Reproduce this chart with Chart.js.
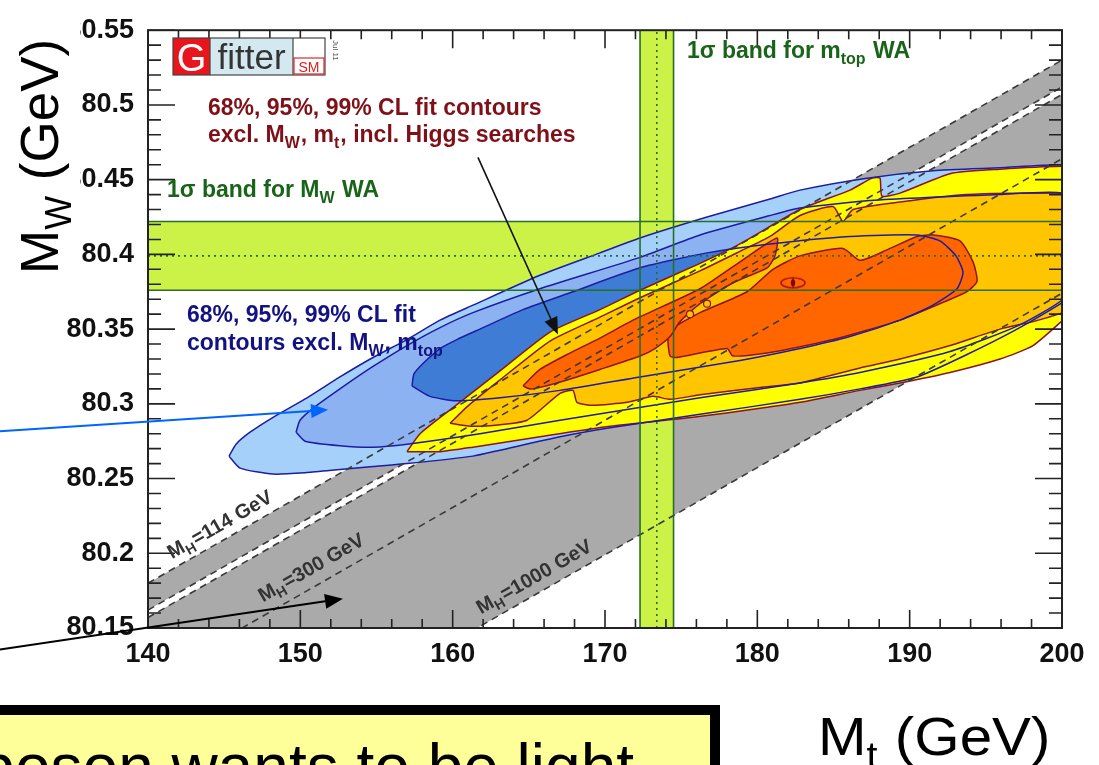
<!DOCTYPE html>
<html>
<head>
<meta charset="utf-8">
<script src="https://cdn.jsdelivr.net/npm/chart.js@4.4.1/dist/chart.umd.min.js"></script>
<style>
  html, body { margin: 0; padding: 0; background: #ffffff; overflow: hidden; }
  #c { display: block; }
</style>
</head>
<body>
<canvas id="c" width="1099" height="765" style="width:1099px;height:765px"></canvas>
<script>
// ---------- axes ----------
const mtRange = [140, 200];
const mwRange = [80.15, 80.55];
const mtTicks = [140, 150, 160, 170, 180, 190, 200];
const mwTicks = [80.15, 80.2, 80.25, 80.3, 80.35, 80.4, 80.45, 80.5, 80.55];
const mwTickLabels = ['80.15', '80.2', '80.25', '80.3', '80.35', '80.4', '80.45', '80.5', '80.55'];
const mtMinorStep = 2;
const mwMinorStep = 0.01;

// ---------- world averages (low, central, high) ----------
const mwWorldAvg = [80.376, 80.399, 80.422];
const mtWorldAvg = [172.3, 173.4, 174.5];

// ---------- SM prediction lines: MW at mt = 140 and mt = 200 ----------
const mh114Upper = [80.180, 80.530];
const mh114Lower = [80.162, 80.512];
const mhHeavyUpper = [80.157, 80.507];
const mh300 = [80.114, 80.464];
const mh1000 = [80.024, 80.374];

// ---------- fit contours excluding MW, mt (mt, MW) ----------
const blue99 = [
  [145.32,80.265],[146.04,80.257],[148.21,80.253],[150.44,80.254],[152.60,80.256],[154.77,80.258],
  [157.00,80.260],[161.33,80.265],[163.11,80.269],[167.05,80.278],[170.33,80.284],[176.24,80.293],
  [182.80,80.303],[186.74,80.310],[190.48,80.318],[193.76,80.333],[197.05,80.350],[200.07,80.368],
  [202.50,80.384],[203.81,80.404],[203.15,80.437],[201.18,80.456],[200.00,80.460],[195.93,80.458],
  [191.53,80.456],[187.20,80.451],[182.80,80.443],[180.83,80.437],[176.70,80.425],[172.30,80.411],
  [169.67,80.401],[165.73,80.386],[161.33,80.366],[159.17,80.356],[157.00,80.343],[154.77,80.331],
  [152.60,80.318],[150.44,80.304],[148.21,80.291],[146.70,80.281],[145.78,80.273]
];
const blue95 = [
  [149.72,80.281],[150.31,80.275],[152.60,80.272],[154.77,80.271],[157.00,80.273],[161.79,80.280],
  [167.05,80.289],[176.24,80.304],[182.80,80.314],[186.74,80.321],[192.65,80.335],[197.05,80.352],
  [200.07,80.370],[201.84,80.394],[201.84,80.427],[200.00,80.441],[195.93,80.440],[187.40,80.436],
  [182.80,80.431],[180.83,80.426],[176.24,80.413],[172.30,80.398],[165.73,80.377],[161.33,80.361],
  [159.17,80.351],[157.00,80.339],[154.77,80.325],[152.60,80.310],[150.83,80.297],[149.98,80.289]
];
const blue68 = [
  [157.33,80.312],[158.51,80.305],[160.28,80.302],[163.11,80.304],[167.05,80.309],[172.30,80.318],
  [178.86,80.329],[182.80,80.337],[186.08,80.345],[189.37,80.356],[191.53,80.366],[193.11,80.377],
  [193.50,80.388],[193.04,80.399],[191.99,80.409],[190.48,80.413],[186.08,80.412],[180.83,80.407],
  [176.70,80.401],[172.30,80.391],[167.90,80.375],[164.62,80.363],[161.79,80.350],[160.28,80.343],
  [159.17,80.337],[158.05,80.327],[157.46,80.320]
];

// ---------- fit contours including Higgs searches (mt, MW) ----------
const yellow99 = [
  [157.00,80.268],[159.17,80.268],[161.33,80.271],[165.73,80.278],[170.33,80.285],[175.78,80.291],
  [180.18,80.297],[182.80,80.301],[186.74,80.309],[189.37,80.314],[192.65,80.321],[195.93,80.330],
  [198.10,80.339],[200.07,80.356],[202.50,80.375],[203.15,80.430],[201.84,80.458],[200.00,80.459],
  [195.93,80.457],[192.65,80.454],[189.37,80.441],[188.18,80.439],[188.05,80.451],[187.53,80.451],
  [186.08,80.443],[182.80,80.430],[178.86,80.407],[176.24,80.394],[172.30,80.376],[169.67,80.363],
  [166.39,80.348],[163.11,80.322],[159.83,80.296],[157.86,80.280]
];
const orange95 = [
  [159.83,80.287],[160.94,80.298],[163.11,80.316],[166.39,80.342],[169.67,80.358],[172.30,80.371],
  [176.24,80.389],[178.86,80.402],[180.83,80.412],[182.80,80.426],[184.97,80.432],[185.62,80.422],
  [186.28,80.430],[189.37,80.435],[193.76,80.440],[200.00,80.441],[202.50,80.440],[202.50,80.370],
  [200.07,80.361],[198.10,80.355],[195.93,80.350],[192.65,80.339],[189.37,80.330],[186.74,80.324],
  [182.80,80.314],[180.18,80.311],[176.24,80.306],[174.27,80.303],[173.15,80.305],[171.44,80.301],
  [169.21,80.299],[168.16,80.301],[167.90,80.309],[167.05,80.307],[164.88,80.289],[163.11,80.286],
  [161.14,80.285]
];
const red68Left = [
  [164.62,80.312],[165.73,80.323],[167.51,80.333],[169.67,80.344],[171.84,80.356],[176.24,80.377],
  [178.86,80.395],[181.29,80.411],[181.16,80.399],[180.64,80.391],[178.40,80.381],[176.24,80.367],
  [174.92,80.355],[174.27,80.345],[173.28,80.337],[172.30,80.332],[169.67,80.323],[167.51,80.316],
  [165.73,80.311],[165.08,80.310]
];
const red68Right = [
  [174.60,80.352],[176.24,80.361],[179.32,80.375],[181.03,80.390],[182.80,80.399],[185.62,80.404],
  [186.74,80.396],[188.51,80.403],[190.48,80.412],[191.53,80.413],[193.30,80.409],[194.16,80.395],
  [194.42,80.382],[193.76,80.375],[192.45,80.369],[189.37,80.356],[184.97,80.343],[180.64,80.334],
  [178.40,80.332],[178.01,80.337],[174.73,80.331],[174.27,80.332],[174.14,80.345]
];
const smallIslands = [[175.58,80.360],[176.70,80.367]];
const bestFit = [182.34, 80.381];

// ---------- arrows (start, tip) ----------
const arrowHiggsFit = [[161.66,80.4649],[166.91,80.3464]];
const arrowBlueFit = [[130.28,80.2816],[151.82,80.296]];
const arrowSMBand = [[130.28,80.1356],[152.80,80.1696]];

// ---------- label anchors (mt, MW) ----------
const mh114Label = [141.58, 80.196];
const mh300Label = [147.55, 80.167];
const mh1000Label = [161.86, 80.159];

const FAMILY = '"Liberation Sans", Arial, Helvetica, sans-serif';
const C_RED_TXT = 'rgb(128,16,24)';
const C_BLUE_TXT = 'rgb(18,18,130)';
const C_GREEN_TXT = 'rgb(26,100,26)';
const C_BAND_FILL = 'rgb(204,242,72)';
const C_BAND_EDGE = 'rgb(40,110,40)';
const C_GREY = 'rgb(170,170,170)';
const C_BLUE_EDGE = 'rgb(28,28,165)';
const C_RED_EDGE = 'rgb(140,20,30)';
const CONTOUR_TENSION = 0.2;

const xy = pts => pts.map(([x, y]) => ({ x, y }));
const closed = pts => xy(pts.concat([pts[0]]));
const segment = (vals) => xy([[mtRange[0], vals[0]], [mtRange[1], vals[1]]]);

function areaSet(pts, fillColor, order, edgeColor, edgeWidth, tension) {
  return {
    data: closed(pts), showLine: true, fill: 'shape', backgroundColor: fillColor,
    borderColor: edgeColor || 'rgba(0,0,0,0)', borderWidth: edgeWidth || 0,
    pointRadius: 0, tension: tension === undefined ? CONTOUR_TENSION : tension, order
  };
}
function outlineSet(pts, color, width, order) {
  return {
    data: closed(pts), showLine: true, fill: false, borderColor: color, borderWidth: width,
    pointRadius: 0, tension: CONTOUR_TENSION, order
  };
}
function lineSet(points, color, width, dash, order) {
  return {
    data: points, showLine: true, fill: false, borderColor: color, borderWidth: width,
    borderDash: dash, pointRadius: 0, order
  };
}
function rectPts(x0, x1, y0, y1) { return [[x0, y0], [x1, y0], [x1, y1], [x0, y1]]; }
const vLine = mt => xy([[mt, mwRange[0]], [mt, mwRange[1]]]);

// best-fit marker symbol
const fitMark = document.createElement('canvas');
fitMark.width = 30; fitMark.height = 14;
(function () {
  const g = fitMark.getContext('2d');
  g.strokeStyle = 'rgb(170,20,20)'; g.lineWidth = 1.6;
  g.beginPath(); g.ellipse(15, 7, 12, 5, 0, 0, Math.PI * 2); g.stroke();
  g.beginPath(); g.moveTo(15, 1.5); g.lineTo(15, 12.5); g.stroke();
  g.fillStyle = 'rgb(120,10,10)';
  g.beginPath(); g.ellipse(15, 7, 2.2, 3.5, 0, 0, Math.PI * 2); g.fill();
})();

const DASH = [7, 5];
const datasets = [
  // SM prediction bands
  areaSet([[mtRange[0], mh114Upper[0]], [mtRange[1], mh114Upper[1]], [mtRange[1], mh114Lower[1]], [mtRange[0], mh114Lower[0]]], C_GREY, 100, null, 0, 0),
  areaSet([[mtRange[0], mhHeavyUpper[0]], [mtRange[1], mhHeavyUpper[1]], [mtRange[1], mh1000[1]], [mtRange[0], mh1000[0]]], C_GREY, 100, null, 0, 0),
  // world-average bands (fill)
  areaSet(rectPts(mtRange[0], mtRange[1], mwWorldAvg[0], mwWorldAvg[2]), C_BAND_FILL, 95, null, 0, 0),
  areaSet(rectPts(mtWorldAvg[0], mtWorldAvg[2], mwRange[0], mwRange[1]), C_BAND_FILL, 95, null, 0, 0),
  // fit excluding MW, mt
  areaSet(blue99, 'rgb(164,208,250)', 90),
  areaSet(blue95, 'rgb(140,178,242)', 89),
  areaSet(blue68, 'rgb(62,124,214)', 88),
  // fit including Higgs searches
  areaSet(yellow99, 'rgb(255,255,0)', 80, C_RED_EDGE, 1.5),
  areaSet(orange95, 'rgb(255,198,0)', 79, C_RED_EDGE, 1.5),
  areaSet(red68Left, 'rgb(255,102,0)', 78, C_RED_EDGE, 1.5),
  areaSet(red68Right, 'rgb(255,102,0)', 78, C_RED_EDGE, 1.5),
  // contour lines of the fit excluding MW, mt
  outlineSet(blue99, C_BLUE_EDGE, 1.5, 70),
  outlineSet(blue95, C_BLUE_EDGE, 1.5, 70),
  outlineSet(blue68, C_BLUE_EDGE, 1.5, 70),
  // SM prediction lines
  lineSet(segment(mh114Upper), '#3a3a3a', 1.6, DASH, 60),
  lineSet(segment(mh114Lower), '#3a3a3a', 1.6, DASH, 60),
  lineSet(segment(mhHeavyUpper), '#3a3a3a', 1.6, DASH, 60),
  lineSet(segment(mh300), '#3a3a3a', 1.6, DASH, 60),
  lineSet(segment(mh1000), '#3a3a3a', 1.6, DASH, 60),
  // world-average band edges and centres
  lineSet(segment([mwWorldAvg[0], mwWorldAvg[0]]), C_BAND_EDGE, 1.6, [], 50),
  lineSet(segment([mwWorldAvg[2], mwWorldAvg[2]]), C_BAND_EDGE, 1.6, [], 50),
  lineSet(segment([mwWorldAvg[1], mwWorldAvg[1]]), C_BAND_EDGE, 1.6, [2, 4], 50),
  lineSet(vLine(mtWorldAvg[0]), C_BAND_EDGE, 1.6, [], 50),
  lineSet(vLine(mtWorldAvg[2]), C_BAND_EDGE, 1.6, [], 50),
  lineSet(vLine(mtWorldAvg[1]), C_BAND_EDGE, 1.6, [2, 4], 50),
  // small islands and best fit point
  { data: xy(smallIslands), showLine: false, pointStyle: 'circle', pointRadius: 3.5, backgroundColor: 'rgb(255,198,0)', borderColor: C_RED_EDGE, borderWidth: 1.2, order: 40 },
  { data: xy([bestFit]), showLine: false, pointStyle: fitMark, pointRadius: 8, order: 40 }
];

// ---------- helpers for drawing annotations ----------
function drawRich(ctx, x, y, segs, size, weight, color) {
  ctx.fillStyle = color;
  ctx.textBaseline = 'alphabetic';
  ctx.textAlign = 'left';
  let cx = x;
  for (const s of segs) {
    const fs = s.sub ? Math.round(size * 0.68) : size;
    ctx.font = `${weight} ${fs}px ${FAMILY}`;
    ctx.fillText(s.t, cx, y + (s.sub ? size * 0.24 : 0));
    cx += ctx.measureText(s.t).width + (s.sub ? 1 : 0);
  }
}
function drawArrow(ctx, x0, y0, x1, y1, color, width, headLen, headW) {
  const a = Math.atan2(y1 - y0, x1 - x0);
  const bx = x1 - headLen * Math.cos(a), by = y1 - headLen * Math.sin(a);
  ctx.save();
  ctx.strokeStyle = color; ctx.fillStyle = color; ctx.lineWidth = width;
  ctx.beginPath(); ctx.moveTo(x0, y0); ctx.lineTo(bx, by); ctx.stroke();
  ctx.beginPath();
  ctx.moveTo(x1, y1);
  ctx.lineTo(bx - headW * Math.sin(a), by + headW * Math.cos(a));
  ctx.lineTo(bx + headW * Math.sin(a), by - headW * Math.cos(a));
  ctx.closePath(); ctx.fill();
  ctx.restore();
}
const near = (v, list) => list.some(t => Math.abs(t - v) < 1e-6);

const frameAndLabels = {
  id: 'frameAndLabels',
  afterDatasetsDraw(chart) {
    const { ctx, chartArea: a, scales: { x, y } } = chart;
    const X = v => x.getPixelForValue(v), Y = v => y.getPixelForValue(v);
    ctx.save();

    // inward ticks on all four sides
    ctx.strokeStyle = '#222'; ctx.lineWidth = 1.6;
    ctx.beginPath();
    const nx = Math.round((mtRange[1] - mtRange[0]) / mtMinorStep);
    for (let i = 0; i <= nx; i++) {
      const v = mtRange[0] + i * mtMinorStep;
      const len = near(v, mtTicks) ? 18 : 9;
      const p = X(v);
      ctx.moveTo(p, a.bottom); ctx.lineTo(p, a.bottom - len);
      ctx.moveTo(p, a.top); ctx.lineTo(p, a.top + len);
    }
    const ny = Math.round((mwRange[1] - mwRange[0]) / mwMinorStep);
    for (let i = 0; i <= ny; i++) {
      const v = +(mwRange[0] + i * mwMinorStep).toFixed(3);
      const len = near(v, mwTicks) ? 27 : 13;
      const p = Y(v);
      ctx.moveTo(a.left, p); ctx.lineTo(a.left + len, p);
      ctx.moveTo(a.right, p); ctx.lineTo(a.right - len, p);
    }
    ctx.stroke();
    ctx.lineWidth = 2;
    ctx.strokeRect(a.left, a.top, a.right - a.left, a.bottom - a.top);

    // Gfitter logo
    ctx.fillStyle = 'rgb(232,22,28)'; ctx.fillRect(173, 38, 37, 37);
    ctx.fillStyle = 'rgb(212,232,240)'; ctx.fillRect(210, 38, 83, 37);
    ctx.fillStyle = '#ffffff'; ctx.fillRect(293, 38, 32, 37);
    ctx.strokeStyle = '#444'; ctx.lineWidth = 1.2;
    ctx.strokeRect(173, 38, 152, 37);
    ctx.beginPath(); ctx.moveTo(210, 38); ctx.lineTo(210, 75); ctx.moveTo(293, 38); ctx.lineTo(293, 75); ctx.stroke();
    ctx.strokeStyle = 'rgb(220,40,40)'; ctx.strokeRect(294, 58, 30, 16);
    ctx.textBaseline = 'alphabetic'; ctx.textAlign = 'center';
    ctx.fillStyle = '#ffffff'; ctx.font = `38px ${FAMILY}`; ctx.fillText('G', 191.5, 71);
    ctx.fillStyle = '#333'; ctx.font = `35px ${FAMILY}`; ctx.fillText('fitter', 251.5, 69);
    ctx.fillStyle = 'rgb(220,30,30)'; ctx.font = `14px ${FAMILY}`; ctx.fillText('SM', 309, 72);
    ctx.save(); ctx.translate(333, 40); ctx.rotate(Math.PI / 2);
    ctx.fillStyle = '#555'; ctx.font = `8px ${FAMILY}`; ctx.textAlign = 'left'; ctx.fillText('Jul 11', 0, 0);
    ctx.restore();

    // legend texts
    drawRich(ctx, 208, 115, [{ t: '68%, 95%, 99% CL fit contours' }], 23, 'bold', C_RED_TXT);
    drawRich(ctx, 208, 142, [{ t: 'excl. M' }, { t: 'W', sub: 1 }, { t: ', m' }, { t: 't', sub: 1 }, { t: ', incl. Higgs searches' }], 23, 'bold', C_RED_TXT);
    drawRich(ctx, 167, 197, [{ t: '1σ band for M' }, { t: 'W', sub: 1 }, { t: ' WA' }], 23, 'bold', C_GREEN_TXT);
    drawRich(ctx, 687, 58, [{ t: '1σ band for m' }, { t: 'top', sub: 1 }, { t: ' WA' }], 23, 'bold', C_GREEN_TXT);
    drawRich(ctx, 187, 322, [{ t: '68%, 95%, 99% CL fit' }], 23, 'bold', C_BLUE_TXT);
    drawRich(ctx, 187, 350, [{ t: 'contours excl. M' }, { t: 'W', sub: 1 }, { t: ', m' }, { t: 'top', sub: 1 }], 23, 'bold', C_BLUE_TXT);

    // Higgs mass labels along the SM lines
    const ang = Math.atan2(Y(mh114Upper[1]) - Y(mh114Upper[0]), X(mtRange[1]) - X(mtRange[0]));
    for (const [pos, txt] of [[mh114Label, '=114 GeV'], [mh300Label, '=300 GeV'], [mh1000Label, '=1000 GeV']]) {
      ctx.save();
      ctx.translate(X(pos[0]), Y(pos[1]));
      ctx.rotate(ang);
      drawRich(ctx, 0, 0, [{ t: 'M' }, { t: 'H', sub: 1 }, { t: txt }], 20, 'bold', '#333');
      ctx.restore();
    }

    // arrows
    drawArrow(ctx, X(arrowHiggsFit[0][0]), Y(arrowHiggsFit[0][1]), X(arrowHiggsFit[1][0]), Y(arrowHiggsFit[1][1]), '#111', 1.6, 17, 7);
    drawArrow(ctx, X(arrowBlueFit[0][0]), Y(arrowBlueFit[0][1]), X(arrowBlueFit[1][0]), Y(arrowBlueFit[1][1]), 'rgb(0,100,255)', 2, 17, 7);
    drawArrow(ctx, X(arrowSMBand[0][0]), Y(arrowSMBand[0][1]), X(arrowSMBand[1][0]), Y(arrowSMBand[1][1]), '#000', 2, 18, 7.5);
    ctx.restore();
  },
  afterDraw(chart) {
    const { ctx } = chart;
    ctx.save();
    // cover behind the vertical axis title
    ctx.fillStyle = '#ffffff';
    ctx.fillRect(0, 0, 80, 200);
    // axis titles
    ctx.save();
    ctx.translate(58, 274); ctx.rotate(-Math.PI / 2);
    drawRich(ctx, 0, 0, [{ t: 'M' }, { t: 'W', sub: 1 }, { t: ' (GeV)' }], 53, 'normal', '#000');
    ctx.restore();
    ctx.save();
    ctx.translate(818, 755); ctx.scale(1.1, 1);
    drawRich(ctx, 0, 0, [{ t: 'M' }, { t: 't', sub: 1 }, { t: ' (GeV)' }], 53, 'normal', '#000');
    ctx.restore();
    // message box
    ctx.fillStyle = 'rgb(255,255,153)';
    ctx.fillRect(-20, 710, 735, 100);
    ctx.strokeStyle = '#000'; ctx.lineWidth = 10;
    ctx.strokeRect(-20, 710, 735, 100);
    ctx.fillStyle = '#000'; ctx.font = `64px ${FAMILY}`;
    ctx.textAlign = 'right'; ctx.textBaseline = 'alphabetic';
    ctx.fillText('Higgs boson wants to be light', 634, 789);
    ctx.restore();
  }
};

const xTickFont = { family: FAMILY, size: 27, weight: 'bold' };
const yTickFont = { family: FAMILY, size: 27, weight: 'bold' };

new Chart(document.getElementById('c'), {
  type: 'scatter',
  data: { datasets },
  options: {
    responsive: false,
    animation: false,
    devicePixelRatio: 1,
    layout: { padding: { left: 0, top: 17, right: 37, bottom: 0 } },
    elements: { line: { capBezierPoints: false } },
    plugins: { legend: { display: false }, tooltip: { enabled: false } },
    scales: {
      x: {
        type: 'linear', min: mtRange[0], max: mtRange[1],
        afterBuildTicks: s => { s.ticks = mtTicks.map(v => ({ value: v })); },
        afterFit: s => { s.height = 137; },
        grid: { display: false, drawTicks: false },
        border: { display: false },
        ticks: { padding: 10, font: xTickFont, color: '#111', maxRotation: 0, autoSkip: false }
      },
      y: {
        type: 'linear', min: mwRange[0], max: mwRange[1],
        afterBuildTicks: s => { s.ticks = mwTicks.map(v => ({ value: v })); },
        afterFit: s => { s.width = 148; },
        grid: { display: false, drawTicks: false },
        border: { display: false },
        ticks: { padding: 14, font: yTickFont, color: '#111', autoSkip: false,
          callback: (v, i) => mwTickLabels[i] }
      }
    }
  },
  plugins: [frameAndLabels]
});
</script>
</body>
</html>
